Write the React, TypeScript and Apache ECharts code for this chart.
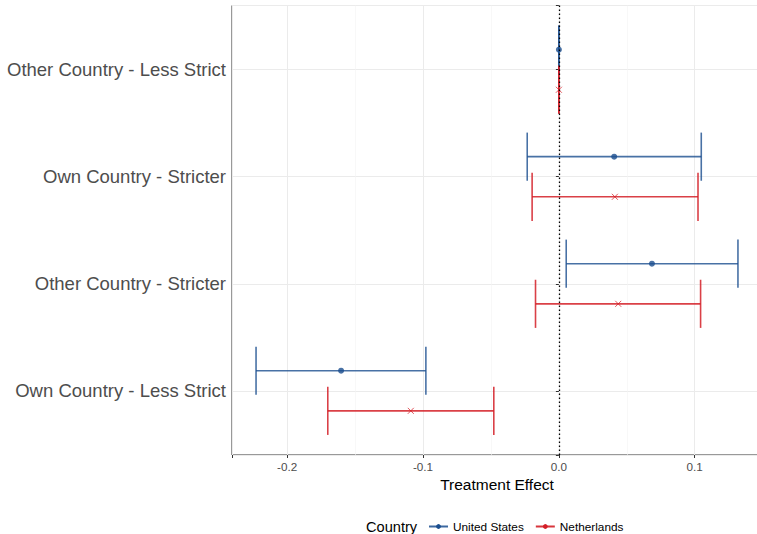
import React, { useEffect, useRef } from "react";
import * as echarts from "echarts";

// Categories from bottom (position 1) to top (position 4)
const categories = [
  "Own Country - Less Strict",
  "Other Country - Stricter",
  "Own Country - Stricter",
  "Other Country - Less Strict",
];
const countries = ["United States", "Netherlands"];

const usEstimate = [-0.1603, 0.0685, 0.0407, 0.0];
const usLower = [-0.2229, 0.0054, -0.0233, 0.0];
const usUpper = [-0.0979, 0.1318, 0.1048, 0.0];

const nlEstimate = [-0.109, 0.0437, 0.0412, 0.0];
const nlLower = [-0.1701, -0.0172, -0.0197, 0.0];
const nlUpper = [-0.0479, 0.1043, 0.1024, 0.0];

const xTicks = [-0.2, -0.1, 0.0, 0.1];

const FONT = "'Liberation Sans', Arial, sans-serif";
const US_COLOR = "#1a4e8f";
const NL_COLOR = "#d41f27";
const DODGE = 0.1875;
const CAP_HALF = 0.225;

function errorBarSeries(name: string, color: string, lo: number[], hi: number[], offset: number, opacity: number) {
  return {
    type: "custom",
    name,
    z: 3,
    encode: { x: [0, 1], y: 2 },
    data: categories.map((_, i) => [lo[i], hi[i], i + 1 + offset]),
    renderItem: (_params: any, api: any) => {
      const l = api.value(0);
      const h = api.value(1);
      const y = api.value(2);
      const p1 = api.coord([l, y]);
      const p2 = api.coord([h, y]);
      const top = api.coord([l, y + CAP_HALF])[1];
      const bot = api.coord([l, y - CAP_HALF])[1];
      const style = { stroke: color, lineWidth: 1.6, opacity };
      return {
        type: "group",
        children: [
          { type: "line", shape: { x1: p1[0], y1: p1[1], x2: p2[0], y2: p2[1] }, style },
          { type: "line", shape: { x1: p1[0], y1: top, x2: p1[0], y2: bot }, style },
          { type: "line", shape: { x1: p2[0], y1: top, x2: p2[0], y2: bot }, style },
        ],
      };
    },
  };
}

export default function App() {
  const ref = useRef<HTMLDivElement>(null);
  useEffect(() => {
    if (!ref.current) return;
    const chart = echarts.init(ref.current, undefined, { renderer: "svg" });
    const option: any = {
      animation: false,
      textStyle: { fontFamily: FONT },
      grid: {
        left: 232,
        top: 5.5,
        width: 530,
        height: 449.5,
        outerBoundsMode: "none",
        containLabel: false,
        show: true,
        borderColor: "#333333",
        borderWidth: 1,
        backgroundColor: "transparent",
      },
      xAxis: {
        type: "value",
        min: -0.2406,
        max: 0.1495,
        splitNumber: 4,
        axisLine: { show: false },
        axisTick: { show: true, length: 3, lineStyle: { color: "#333333" } },
        axisLabel: {
          margin: 5,
          fontSize: 11.7,
          color: "#4d4d4d",
          fontFamily: FONT,
          formatter: (v: number) => {
            const t = xTicks.find((x) => Math.abs(x - v) < 1e-9);
            if (t === undefined) return "";
            return Math.abs(t) < 1e-9 ? "0.0" : t.toFixed(1);
          },
        },
        splitLine: { show: true, lineStyle: { color: "#ebebeb", width: 1 } },
        minorTick: { show: false, splitNumber: 2 },
        minorSplitLine: { show: true, lineStyle: { color: "#f4f4f4", width: 0.6 } },
        name: "Treatment Effect",
        nameLocation: "middle",
        nameGap: 18,
        nameTextStyle: { fontSize: 15.5, color: "#000000", fontFamily: FONT },
      },
      yAxis: {
        type: "value",
        min: 0.4,
        max: 4.6,
        splitNumber: 4,
        axisLine: { show: false },
        axisTick: { show: true, length: 3, lineStyle: { color: "#333333" } },
        axisLabel: {
          margin: 6,
          fontSize: 18.5,
          color: "#4d4d4d",
          fontFamily: FONT,
          formatter: (v: number) => {
            const i = Math.round(v);
            if (Math.abs(v - i) < 1e-6 && i >= 1 && i <= categories.length) return categories[i - 1];
            return "";
          },
        },
        splitLine: { show: true, lineStyle: { color: "#ebebeb", width: 1 } },
      },
      legend: {
        data: countries,
        left: 428,
        top: 518.5,
        padding: 0,
        itemWidth: 19,
        itemHeight: 6,
        itemGap: 11,
        textStyle: { fontSize: 11.8, color: "#000000", fontFamily: FONT, lineHeight: 16 },
      },
      graphic: [
        {
          type: "text",
          left: 366,
          top: 519,
          style: { text: "Country", fontSize: 14.6, fill: "#000000", fontFamily: FONT },
        },
      ],
      series: [
        {
          type: "line",
          name: countries[0],
          data: [],
          symbol: "circle",
          itemStyle: { color: US_COLOR },
          lineStyle: { color: US_COLOR, width: 1.6, opacity: 0.85 },
        },
        {
          type: "line",
          name: countries[1],
          data: [],
          symbol: "circle",
          itemStyle: { color: NL_COLOR },
          lineStyle: { color: NL_COLOR, width: 1.6, opacity: 0.9 },
        },
        errorBarSeries(countries[0], US_COLOR, usLower, usUpper, DODGE, 0.8),
        errorBarSeries(countries[1], NL_COLOR, nlLower, nlUpper, -DODGE, 0.85),
        {
          type: "scatter",
          name: countries[0],
          z: 4,
          symbol: "circle",
          symbolSize: 6,
          itemStyle: { color: US_COLOR },
          data: categories.map((_, i) => [usEstimate[i], i + 1 + DODGE]),
          markLine: {
            silent: true,
            symbol: ["none", "none"],
            label: { show: false },
            z: 6,
            lineStyle: { color: "#000000", type: [1.5, 2.5], width: 1.3, opacity: 1 },
            data: [{ xAxis: 0 }],
          },
        },
        {
          type: "scatter",
          name: countries[1],
          z: 4,
          symbol: "path://M0,0L10,10M10,0L0,10",
          symbolSize: 6,
          itemStyle: { color: "none", borderColor: NL_COLOR, borderWidth: 1, opacity: 0.75 },
          data: categories.map((_, i) => [nlEstimate[i], i + 1 - DODGE]),
        },
      ],
    };
    chart.setOption(option);
    return () => chart.dispose();
  }, []);
  return (
    <div
      ref={ref}
      style={{ position: "absolute", left: 0, top: 0, width: 757, height: 534, background: "#ffffff" }}
    />
  );
}
